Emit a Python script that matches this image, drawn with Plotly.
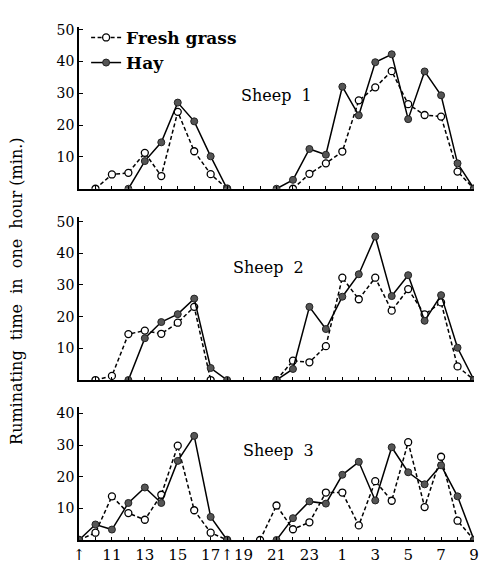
import plotly.graph_objects as go
from plotly.subplots import make_subplots

hours = list(range(9, 34))  # 9 h to 9 h next day (33 = 9 next morning)

s1_fresh = [None, 0, 4.5, 5, 11.3, 4, 24.2, 11.8, 4.6, 0, None, None, None,
            0, 4.7, 8, 11.7, 27.8, 31.9, 37, 26.6, 23.2, 22.7, 5.4, 0]
s1_hay = [None, None, None, 0, 8.7, 14.6, 27.1, 21.2, 10.2, 0, None, None, 0,
          2.8, 12.5, 10.7, 32.1, 23.1, 39.8, 42.3, 21.9, 36.9, 29.4, 8, 0]
s2_fresh = [None, 0, 1.3, 14.5, 15.6, 14.6, 18.1, 23.1, 0, None, None, None, 0,
            6.1, 5.6, 10.7, 32.3, 25.5, 32.3, 21.9, 28.7, 20.7, 24.5, 4.3, 0]
s2_hay = [None, None, None, 0, 13.2, 18.3, 20.8, 25.7, 3.8, 0, None, None, 0,
          3.5, 23.1, 16.1, 26.3, 33.4, 45.3, 26.5, 33.1, 18.7, 26.8, 10.2, 0]
s3_fresh = [0, 2.3, 13.8, 8.5, 6.4, 14.3, 29.8, 9.4, 2.3, 0, None, 0, 10.9,
            3.4, 5.6, 15, 15, 4.6, 18.6, 12.4, 30.9, 10.4, 26.3, 6.1, 0]
s3_hay = [0, 4.9, 3.3, 11.7, 16.6, 11.7, 25, 32.9, 7.3, 0, None, None, 0,
          6.9, 12.2, 11.5, 20.6, 24.7, 12.5, 29.3, 21.4, 17.6, 23.6, 13.8, 0]

tick_vals = [9, 11, 13, 15, 17, 18, 19, 21, 23, 25, 27, 29, 31, 33]
tick_text = ["↑", "11", "13", "15", "17", "↑", "19", "21", "23", "1", "3", "5", "7", "9"]
y_ticks = [10, 20, 30, 40, 50]
sheep_names = ["Sheep&nbsp;&nbsp;1", "Sheep&nbsp;&nbsp;2", "Sheep&nbsp;&nbsp;3"]
y_max = [51, 51.5, 42]

FONT = "DejaVu Serif"

fig = make_subplots(rows=3, cols=1, shared_xaxes=False, vertical_spacing=0.05)

data = [(s1_fresh, s1_hay), (s2_fresh, s2_hay), (s3_fresh, s3_hay)]
for i, (fr, hy) in enumerate(data):
    row = i + 1
    fig.add_trace(go.Scatter(
        x=hours, y=fr, mode="lines+markers", name="<b>Fresh grass</b>",
        showlegend=(i == 0), connectgaps=False,
        line=dict(color="black", width=1.5, dash="4px,2.5px"),
        marker=dict(symbol="circle", size=7, color="white",
                    line=dict(color="black", width=1.3)),
    ), row=row, col=1)
    fig.add_trace(go.Scatter(
        x=hours, y=hy, mode="lines+markers", name="<b>Hay</b>",
        showlegend=(i == 0), connectgaps=False,
        line=dict(color="black", width=1.5),
        marker=dict(symbol="circle", size=7, color="#555555",
                    line=dict(color="#222222", width=1)),
    ), row=row, col=1)

# domains (paper) computed from reference pixel positions
domains = [[0.6794, 0.993], [0.3094, 0.625], [0.0, 0.2571]]
for i in range(3):
    ax = "yaxis" if i == 0 else f"yaxis{i+1}"
    xax = "xaxis" if i == 0 else f"xaxis{i+1}"
    fig.layout[ax].update(
        domain=domains[i], range=[0, y_max[i]], tickvals=[v for v in y_ticks if v < y_max[i]],
        ticks="inside", ticklen=4, tickwidth=1.2, tickcolor="black",
        showline=True, linecolor="black", linewidth=1.6, showgrid=False, zeroline=False,
        tickfont=dict(family=FONT, size=14, color="black"),
    )
    fig.layout[xax].update(
        range=[9, 33], tickvals=list(range(9, 34)),
        ticktext=[""] * 25, tickangle=0,
        ticks="inside", ticklen=3, tickwidth=1, tickcolor="black",
        showline=True, linecolor="black", linewidth=1.6, showgrid=False, zeroline=False,
        tickfont=dict(family=FONT, size=15, color="black"),
    )

# bottom panel labels
fig.layout["xaxis3"].update(
    tickvals=tick_vals + [h for h in range(9, 34) if h not in tick_vals],
    ticktext=tick_text + [""] * (25 - len(tick_vals)),
)

label_pos = [(21.0, 29.3), (20.5, 35.6), (21.1, 28.3)]
for i, name in enumerate(sheep_names):
    suffix = "" if i == 0 else str(i + 1)
    fig.add_annotation(x=label_pos[i][0], y=label_pos[i][1], xref="x" + suffix, yref="y" + suffix,
                       text=name, showarrow=False,
                       font=dict(family=FONT, size=16, color="black"))

fig.add_annotation(x=33.25, y=-0.0175, xref="x3", yref="paper", text="<b>hr.</b>",
                   showarrow=False, xanchor="left", yanchor="middle",
                   font=dict(family=FONT, size=16, color="black"))

sp = "&nbsp;" * 2
fig.add_annotation(x=-0.158, y=0.481, xref="paper", yref="paper",
                   text=sp.join(["Ruminating", "time", "in", "one", "hour"]) + "&nbsp;(min.)",
                   textangle=-90,
                   showarrow=False, xanchor="center", yanchor="middle",
                   font=dict(family=FONT, size=16, color="black"))

fig.update_layout(
    width=496, height=566,
    margin=dict(l=71, r=30, t=10, b=23),
    paper_bgcolor="white", plot_bgcolor="white",
    showlegend=True,
    legend=dict(x=0.018, y=1.006, xanchor="left", yanchor="top",
                bgcolor="rgba(0,0,0,0)", tracegroupgap=0,
                font=dict(family=FONT, size=17, color="black"),
                itemwidth=30),
)

fig.write_html("out.html")
